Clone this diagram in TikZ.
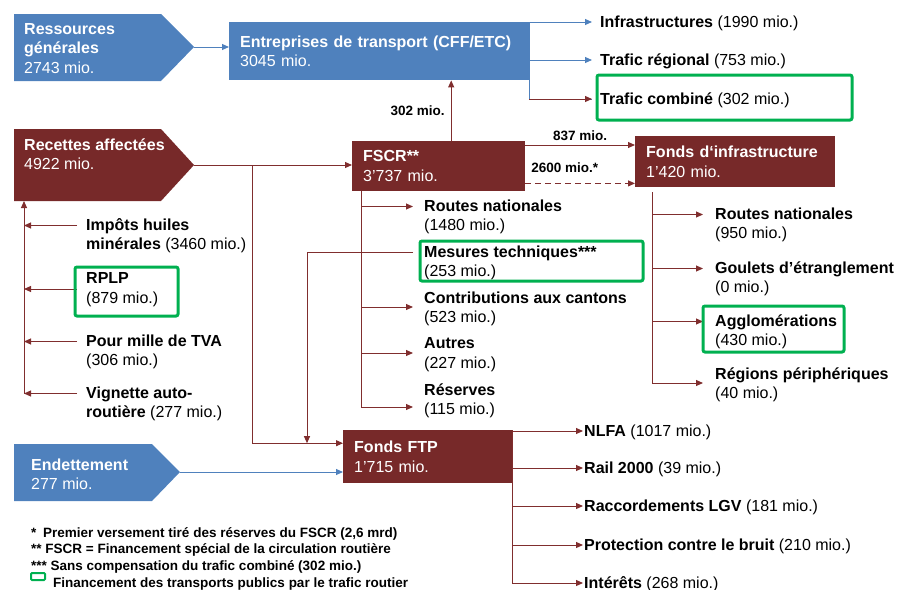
\documentclass[tikz,border=0pt]{standalone}
\usepackage{fontspec}
\setmainfont{Liberation Sans}
\usetikzlibrary{arrows.meta}
\definecolor{boxblue}{RGB}{79,129,189}
\definecolor{boxred}{RGB}{119,41,41}
\definecolor{linered}{RGB}{128,46,46}
\definecolor{markgreen}{RGB}{0,176,80}
\newcommand{\itemfont}{\fontsize{16}{19.5}\selectfont}
\tikzset{
  redline/.style={line width=1pt, draw=linered},
  blueline/.style={line width=1pt, draw=boxblue},
  redarr/.style={redline, -{Triangle[length=7pt,width=6pt]}},
  bluearr/.style={blueline, -{Triangle[length=7pt,width=6pt]}},
  fundbox/.style={fill=boxred, text=white, anchor=north west, align=left,
    inner xsep=11pt, inner ysep=0pt, font=\itemfont},
  entry/.style={anchor=west, align=left, inner ysep=0pt, font=\itemfont,
    execute at begin node=\strut, execute at end node=\strut},
  srctext/.style={entry, text=white, inner xsep=0pt},
  flowlbl/.style={font=\fontsize{13.5}{16}\selectfont\bfseries, inner sep=1pt},
  notes/.style={anchor=west, align=left, inner sep=0pt,
    font=\fontsize{13.5}{16.5}\selectfont\bfseries},
  highlight/.style={draw=markgreen, line width=3pt, rounded corners=2pt}
}
\begin{document}
\begin{tikzpicture}[x=1pt,y=-1pt]
  \useasboundingbox (0,0) rectangle (909,589);
  % sources (arrow shapes)
  \fill[boxblue] (14,14) -- (161,14) -- (194,47) -- (161,81) -- (14,81) -- cycle;
  \fill[boxred] (14,129) -- (161,129) -- (194,165) -- (161,201) -- (14,201) -- cycle;
  \fill[boxblue] (14,444) -- (152,444) -- (180,472) -- (152,501) -- (14,501) -- cycle;
  \coordinate (resTip) at (194,47);
  \coordinate (recTip) at (194,165);
  \coordinate (recBot) at (24,201);
  \coordinate (detTip) at (180,472);
  \node[srctext] (res) at (24,51) {\textbf{Ressources}\\\textbf{générales}\\2743 mio.};
  \node[srctext] (rec) at (24,157) {\textbf{Recettes affectées}\\4922 mio.};
  \node[srctext] (det) at (31,477) {\textbf{Endettement}\\277 mio.};

  % funds
  \node[fundbox, fill=boxblue, text width=278pt, minimum height=58pt] (entr) at (229,22)
    {\textbf{Entreprises de transport (CFF/ETC)}\\3045 mio.};
  \node[fundbox, text width=151pt, minimum height=50pt] (fscr) at (352,141)
    {\textbf{FSCR**}\\3'737 mio.};
  \node[fundbox, text width=178pt, minimum height=51pt] (finf) at (635,136)
    {\textbf{Fonds d‘infrastructure}\\1’420 mio.};
  \node[fundbox, text width=147pt, minimum height=53pt] (ftp) at (343,430)
    {\textbf{Fonds FTP}\\1’715 mio.};

  % uses of the transport companies
  \begin{scope}[every node/.append style={inner xsep=8pt}]
    \node[entry] (infra) at (592,24) {\textbf{Infrastructures} (1990 mio.)};
    \node[entry] (trreg) at (592,62) {\textbf{Trafic régional} (753 mio.)};
    \node[entry] (trcomb) at (592,101) {\textbf{Trafic combiné} (302 mio.)};
  \end{scope}

  % earmarked revenues
  \begin{scope}[every node/.append style={inner xsep=9pt}]
    \node[entry] (imp) at (77,237) {\textbf{Impôts huiles}\\\textbf{minérales} (3460 mio.)};
    \node[entry] (rplp) at (77,291) {\textbf{RPLP}\\(879 mio.)};
    \node[entry] (pour) at (77,353) {\textbf{Pour mille de TVA}\\(306 mio.)};
    \node[entry] (vign) at (77,405) {\textbf{Vignette auto-}\\\textbf{routière} (277 mio.)};
  \end{scope}

  % FSCR uses
  \begin{scope}[every node/.append style={inner xsep=11pt}]
    \node[entry] (rn1) at (413,218) {\textbf{Routes nationales}\\(1480 mio.)};
    \node[entry] (mes) at (413,264) {\textbf{Mesures techniques***}\\(253 mio.)};
    \node[entry] (cant) at (413,310) {\textbf{Contributions aux cantons}\\(523 mio.)};
    \node[entry] (autr) at (413,356) {\textbf{Autres}\\(227 mio.)};
    \node[entry] (rese) at (413,402) {\textbf{Réserves}\\(115 mio.)};
  \end{scope}

  % infrastructure fund uses
  \begin{scope}[every node/.append style={inner xsep=12pt}]
    \node[entry] (rn2) at (703,226) {\textbf{Routes nationales}\\(950 mio.)};
    \node[entry] (goul) at (703,280) {\textbf{Goulets d’étranglement}\\(0 mio.)};
    \node[entry] (aggl) at (703,333) {\textbf{Agglomérations}\\(430 mio.)};
    \node[entry] (regi) at (703,386) {\textbf{Régions périphériques}\\(40 mio.)};
  \end{scope}

  % FTP fund uses
  \begin{scope}[every node/.append style={inner xsep=1pt}]
    \node[entry] (nlfa) at (583,433) {\textbf{NLFA} (1017 mio.)};
    \node[entry] (rail) at (583,470) {\textbf{Rail 2000} (39 mio.)};
    \node[entry] (racc) at (583,508) {\textbf{Raccordements LGV} (181 mio.)};
    \node[entry] (prot) at (583,547) {\textbf{Protection contre le bruit} (210 mio.)};
    \node[entry] (inte) at (583,585) {\textbf{Intérêts} (268 mio.)};
  \end{scope}

  % flows
  \draw[bluearr] (resTip) -- (resTip -| entr.west);
  \draw[blueline] (entr.north east) |- ([yshift=2pt]trcomb.west);
  \draw[bluearr] (entr.north east) |- ([yshift=2pt]infra.west);
  \draw[bluearr] (entr.north east) |- ([yshift=2pt]trreg.west);
  \draw[redarr] ([yshift=2pt]trcomb.west -| entr.east) -- ([yshift=2pt]trcomb.west);

  \path (fscr.north) ++(12.5,0) coordinate (fscrUp);
  \draw[redarr] (fscrUp) -- (fscrUp |- entr.south)
    node[midway, left=5pt, flowlbl] {302 mio.};

  \draw[redarr] (recTip) -- (recTip -| fscr.west);
  \path (recTip) ++(58,0) coordinate (split);
  \coordinate (ftpIn) at ([yshift=13.5pt]ftp.west);
  \draw[redarr] (split) |- (ftpIn);
  \draw[bluearr] (detTip) -- (detTip -| ftp.west);

  \path (fscr.north east) ++(0,4) coordinate (f837);
  \path (fscr.south east) ++(0,-8) coordinate (f2600);
  \draw[redarr] (f837) -- (f837 -| finf.west)
    node[midway, above=3pt, flowlbl] {837 mio.};
  \draw[redarr, dash pattern=on 6pt off 4pt] (f2600) -- (f2600 -| finf.west)
    node[pos=0.36, above=9pt, flowlbl] {2600 mio.*};

  % left collector
  \draw[redarr] ([yshift=11.5pt]vign.west -| recBot) -- (recBot);
  \foreach \n in {imp,pour,vign}
    \draw[redarr] ([yshift=11.5pt]\n.west) -- ([yshift=11.5pt]\n.west -| recBot);
  \draw[redarr] ([yshift=2pt]rplp.west) -- ([yshift=2pt]rplp.west -| recBot);

  % FSCR branches
  \path (fscr.south west) ++(9,0) coordinate (fsTrunk);
  \draw[redarr] (fsTrunk) |- ([yshift=11.5pt]rn1.west);
  \draw[redarr] (fsTrunk) |- ([yshift=3pt]cant.west);
  \draw[redarr] (fsTrunk) |- ([yshift=3pt]autr.west);
  \draw[redarr] (fsTrunk) |- ([yshift=-5pt]rese.west);
  \path ([yshift=11.5pt]mes.west) ++(-106,0) coordinate (mesDown);
  \draw[redarr] ([yshift=11.5pt]mes.west) -- (mesDown) -- (mesDown |- ftpIn);

  % infrastructure fund branches
  \path (finf.south west) ++(17,5) coordinate (fiTrunk);
  \foreach \n in {rn2,goul,aggl}
    \draw[redarr] (fiTrunk) |- ([yshift=11.5pt]\n.west);
  \draw[redarr] (fiTrunk) |- ([yshift=3pt]regi.west);

  % FTP fund branches
  \foreach \n in {nlfa,rail,racc,prot,inte}
    \draw[redarr] (ftp.north east) |- ([yshift=2pt]\n.west);

  % highlights
  \draw[highlight] (597,75) rectangle (852,120);
  \draw[highlight] (420,241) rectangle (643,281);
  \draw[highlight] (703,306) rectangle (844,352);
  \draw[highlight] (75,267) rectangle (178,316);

  % notes
  \node[notes] (note) at (31,550)
    {*\enspace Premier versement tiré des réserves du FSCR (2,6 mrd)\\
     ** FSCR = Financement spécial de la circulation routière\\
     *** Sans compensation du trafic combiné (302 mio.)};
  \draw[highlight, line width=2pt, rounded corners=1pt] (31,573) rectangle (45,580);
  \node[notes] (note4) at (53,584) {Financement des transports publics par le trafic routier};
\end{tikzpicture}
\end{document}
